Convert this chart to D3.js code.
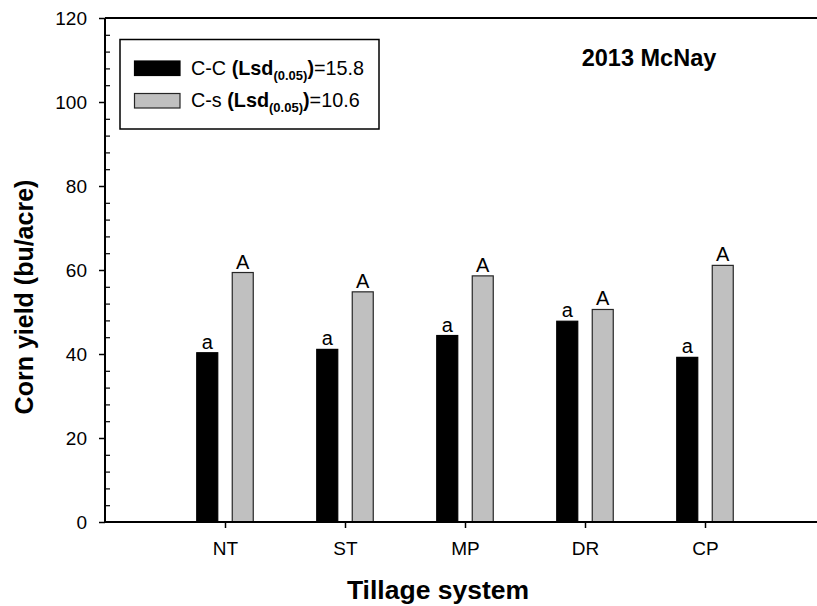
<!DOCTYPE html>
<html>
<head>
<meta charset="utf-8">
<script src="https://cdn.jsdelivr.net/npm/d3@7/dist/d3.min.js"></script>
<style>
  body { margin: 0; background: #fff; }
  svg { display: block; font-family: Arial, "Liberation Sans", sans-serif; }
</style>
</head>
<body>
<svg id="chart" width="817" height="606"></svg>
<script>
const categories = ["NT", "ST", "MP", "DR", "CP"];
const seriesNames = ["C-C", "C-s"];
const ccValues = [40.3, 41.1, 44.4, 47.8, 39.2];
const csValues = [59.4, 54.8, 58.6, 50.6, 61.1];
const ccLetters = ["a", "a", "a", "a", "a"];
const csLetters = ["A", "A", "A", "A", "A"];
const lsdValues = ["15.8", "10.6"];
const yTicks = [0, 20, 40, 60, 80, 100, 120];
const yMinorTicks = d3.range(0, 121, 4);

(function () {
const svg = d3.select("#chart");
const pL = 105, pR = 825, pT = 18, pB = 522;
const FF = "Arial, 'Liberation Sans', sans-serif";

const x = d3.scalePoint().domain(categories).range([pL, pR]).padding(1);
const y = d3.scaleLinear().domain([0, 120]).range([pB, pT]);

const off = 17.75, bw = 22;
const series = [
  { name: seriesNames[0], values: ccValues, letters: ccLetters, fill: "#000000", stroke: "#000000", dx: -off },
  { name: seriesNames[1], values: csValues, letters: csLetters, fill: "#c0c0c0", stroke: "#262626", dx: off }
];

// bars
series.forEach(s => {
  svg.append("g").selectAll("rect").data(categories).join("rect")
    .attr("x", (c) => x(c) + s.dx - bw / 2 + 0.5)
    .attr("y", (c, i) => y(s.values[i]))
    .attr("width", bw - 1)
    .attr("height", (c, i) => y(0) - y(s.values[i]))
    .attr("fill", s.fill)
    .attr("stroke", s.stroke)
    .attr("stroke-width", 1.2);
  svg.append("g").selectAll("text").data(categories).join("text")
    .attr("x", (c) => x(c) + s.dx)
    .attr("y", (c, i) => y(s.values[i]) - 4)
    .attr("text-anchor", "middle")
    .attr("font-size", 20)
    .text((c, i) => s.letters[i]);
});

// y axis
const yAxis = d3.axisLeft(y).tickValues(yTicks).tickSize(6).tickPadding(12);
const gy = svg.append("g").attr("transform", `translate(${pL},0)`).call(yAxis);
gy.select(".domain").remove();
gy.selectAll("text").attr("font-size", 19).attr("fill", "#000").attr("font-family", FF);
gy.selectAll("line").attr("stroke", "#000").attr("stroke-width", 1.5);

// minor ticks inside
const yMinor = d3.axisRight(y).tickValues(yMinorTicks.filter(v => v % 20 !== 0)).tickSize(5).tickFormat("");
const gm = svg.append("g").attr("transform", `translate(${pL},0)`).call(yMinor);
gm.select(".domain").remove();
gm.selectAll("line").attr("stroke", "#000").attr("stroke-width", 1.2);

// x axis
const xAxis = d3.axisBottom(x).tickSize(6).tickPadding(14);
const gx = svg.append("g").attr("transform", `translate(0,${pB})`).call(xAxis);
gx.select(".domain").remove();
gx.selectAll("text").attr("font-size", 19).attr("fill", "#000").attr("font-family", FF);
gx.selectAll("line").attr("stroke", "#000").attr("stroke-width", 1.5);

// frame lines
svg.append("line").attr("x1", pL).attr("x2", pR).attr("y1", pB).attr("y2", pB).attr("stroke", "#000").attr("stroke-width", 2);
svg.append("line").attr("x1", pL).attr("x2", pR).attr("y1", pT).attr("y2", pT).attr("stroke", "#000").attr("stroke-width", 2);
svg.append("line").attr("x1", pL).attr("x2", pL).attr("y1", pT).attr("y2", pB).attr("stroke", "#000").attr("stroke-width", 2);

// axis titles
svg.append("text").attr("transform", "translate(33,297) rotate(-90)")
  .attr("text-anchor", "middle").attr("font-weight", "bold").attr("font-size", 25)
  .text("Corn yield (bu/acre)");
svg.append("text").attr("x", 438).attr("y", 599)
  .attr("text-anchor", "middle").attr("font-weight", "bold").attr("font-size", 26.5)
  .text("Tillage system");

// site title
svg.append("text").attr("x", 649).attr("y", 66)
  .attr("text-anchor", "middle").attr("font-weight", "bold").attr("font-size", 23.5)
  .text("2013 McNay");

// legend
svg.append("rect").attr("x", 120).attr("y", 39.5).attr("width", 259).attr("height", 89.5)
  .attr("fill", "#fff").attr("stroke", "#000").attr("stroke-width", 1.5);
const legY = [61, 93.5];
const legBase = [75, 107];
series.forEach((s, i) => {
  svg.append("rect").attr("x", 134.5).attr("y", legY[i]).attr("width", 45.5).attr("height", 14.5)
    .attr("fill", s.fill).attr("stroke", s.stroke).attr("stroke-width", 1.2);
  const t = svg.append("text").attr("x", 191).attr("y", legBase[i]).attr("font-size", 19.8);
  t.append("tspan").text(s.name + " ");
  t.append("tspan").attr("font-weight", "bold").text("(Lsd");
  t.append("tspan").attr("font-weight", "bold").attr("font-size", 13).attr("dy", 5).text("(0.05)");
  t.append("tspan").attr("font-weight", "bold").attr("dy", -5).text(")");
  t.append("tspan").text("=" + lsdValues[i]);
});
})();
</script>
</body>
</html>
